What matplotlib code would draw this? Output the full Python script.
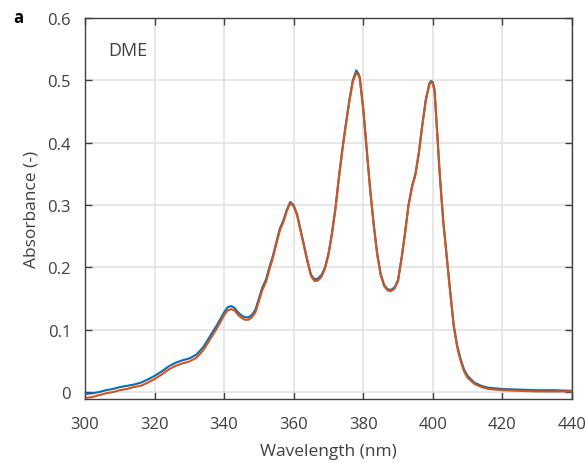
import matplotlib
matplotlib.use("Agg")
import matplotlib.pyplot as plt
from matplotlib.ticker import FixedLocator, FixedFormatter

plt.rcParams['font.family'] = ['Open Sans', 'DejaVu Sans']

# Absorbance spectra of DME (two repeat measurements)
wl_a = [300, 302, 304, 306, 308, 310, 312, 314, 316, 318, 320, 322, 324, 326, 328,
        330, 332, 334, 336, 338, 340, 341, 342, 343, 344, 345, 346, 347, 348, 349,
        350, 351, 352, 353, 354, 355, 356, 357, 358, 359, 360, 361, 362, 363, 364,
        365, 366, 367, 368, 369, 370, 371, 372, 373, 374, 375, 376, 377, 378, 378.7,
        379, 380, 381, 382, 383, 384, 385, 386, 387, 388, 389, 390, 391, 392, 393,
        394, 395, 396, 397, 398, 399, 399.5, 400, 400.5, 401, 402, 403, 404, 405,
        406, 407, 408, 409, 410, 412, 414, 416, 420, 425, 430, 435, 440]
abs_a = [-0.003, -0.002, 0.000, 0.003, 0.005, 0.008, 0.010, 0.012, 0.015, 0.020,
         0.026, 0.033, 0.041, 0.047, 0.051, 0.054, 0.060, 0.072, 0.090, 0.108,
         0.128, 0.136, 0.138, 0.135, 0.128, 0.123, 0.120, 0.120, 0.124, 0.132,
         0.150, 0.168, 0.180, 0.200, 0.218, 0.240, 0.262, 0.275, 0.292, 0.305,
         0.300, 0.285, 0.260, 0.235, 0.210, 0.188, 0.181, 0.182, 0.188, 0.200,
         0.222, 0.255, 0.295, 0.345, 0.390, 0.430, 0.468, 0.500, 0.516, 0.510,
         0.505, 0.455, 0.390, 0.325, 0.270, 0.223, 0.190, 0.172, 0.165, 0.164,
         0.168, 0.180, 0.215, 0.255, 0.300, 0.330, 0.350, 0.385, 0.430, 0.470,
         0.495, 0.499, 0.497, 0.485, 0.440, 0.350, 0.275, 0.218, 0.162, 0.108,
         0.075, 0.053, 0.036, 0.026, 0.015, 0.010, 0.007, 0.005, 0.004, 0.003,
         0.003, 0.002]

wl_b = [300.5, 302, 304, 306, 308, 310, 312, 314, 316, 318, 320, 322, 324, 326, 328,
        330, 332, 334, 336, 338, 340, 341, 342, 343, 344, 345, 346, 347, 348, 349,
        350, 351, 352, 353, 354, 355, 356, 357, 358, 359, 360, 361, 362, 363, 364,
        365, 366, 367, 368, 369, 370, 371, 372, 373, 374, 375, 376, 377, 378, 378.7,
        379, 380, 381, 382, 383, 384, 385, 386, 387, 388, 389, 390, 391, 392, 393,
        394, 395, 396, 397, 398, 399, 399.5, 400, 400.5, 401, 402, 403, 404, 405,
        406, 407, 408, 409, 410, 412, 414, 416, 420, 425, 430, 435, 440]
abs_b = [-0.009, -0.008, -0.005, -0.002, 0.000, 0.003, 0.005, 0.008, 0.010, 0.015,
         0.021, 0.028, 0.036, 0.042, 0.046, 0.049, 0.055, 0.067, 0.085, 0.103,
         0.123, 0.131, 0.133, 0.131, 0.124, 0.119, 0.116, 0.116, 0.120, 0.128,
         0.146, 0.164, 0.176, 0.196, 0.215, 0.237, 0.259, 0.272, 0.290, 0.303,
         0.298, 0.283, 0.258, 0.233, 0.208, 0.186, 0.178, 0.179, 0.185, 0.198,
         0.220, 0.253, 0.293, 0.343, 0.388, 0.428, 0.466, 0.498, 0.512, 0.508,
         0.503, 0.453, 0.388, 0.323, 0.268, 0.221, 0.188, 0.170, 0.163, 0.162,
         0.166, 0.178, 0.213, 0.253, 0.298, 0.328, 0.348, 0.383, 0.428, 0.468,
         0.493, 0.497, 0.495, 0.483, 0.438, 0.348, 0.273, 0.216, 0.160, 0.106,
         0.072, 0.050, 0.033, 0.023, 0.013, 0.008, 0.005, 0.003, 0.002, 0.001,
         0.001, 0.001]

x_ticks = [300, 320, 340, 360, 380, 400, 420, 440]
y_ticks = [0, 0.1, 0.2, 0.3, 0.4, 0.5, 0.6]
y_tick_labels = ["0", "0.1", "0.2", "0.3", "0.4", "0.5", "0.6"]

ink = "#404040"

fig = plt.figure(figsize=(5.86, 4.64), dpi=100)
ax = fig.add_axes([0.145, 0.138, 0.831, 0.821])

ax.plot(wl_a, abs_a, color="#0072BD", lw=1.5, zorder=3)
ax.plot(wl_b, abs_b, color="#D95319", lw=1.5, zorder=4)

ax.set_xlim(300, 440)
ax.set_ylim(-0.011, 0.6)
ax.xaxis.set_major_locator(FixedLocator(x_ticks))
ax.yaxis.set_major_locator(FixedLocator(y_ticks))
ax.yaxis.set_major_formatter(FixedFormatter(y_tick_labels))

ax.grid(True, color="#e3e3e3", lw=1.2, zorder=0)
ax.set_axisbelow(True)
for s in ax.spines.values():
    s.set_color(ink)
    s.set_linewidth(1.0)
ax.tick_params(direction="in", length=5, width=1.0, color=ink, labelcolor=ink,
               labelsize=12, top=True, right=True)
ax.tick_params(axis="x", pad=12)
ax.tick_params(axis="y", pad=10)

ax.set_xlabel("Wavelength (nm)", fontsize=12.5, color=ink, labelpad=8)
ax.set_ylabel("Absorbance (-)", fontsize=12.5, color=ink, labelpad=6)

ax.text(0.048, 0.916, "DME", transform=ax.transAxes, fontsize=13, color=ink,
        ha="left", va="center")
fig.text(0.022, 0.961, "a", fontsize=12, fontweight="bold", color="black",
         ha="left", va="center")

fig.savefig("out.png", dpi=100)
